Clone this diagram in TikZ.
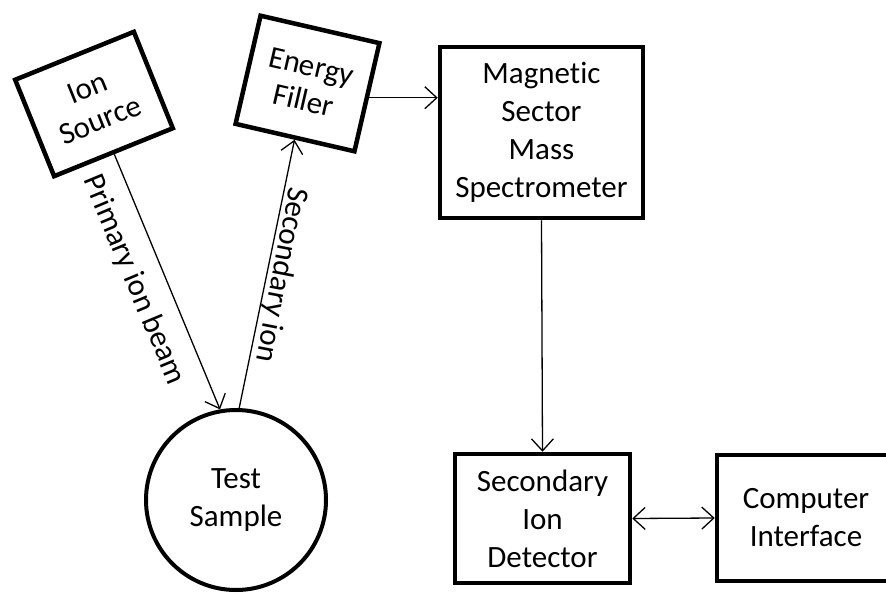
\documentclass[tikz,border=0pt]{standalone}
\usepackage{fontspec}
\setmainfont[Ligatures={NoCommon,NoContextual}]{Carlito}
\usetikzlibrary{arrows.meta}
\begin{document}
\begin{tikzpicture}[x=1pt,y=-1pt,
  every node/.style={font=\fontsize{31}{38}\selectfont, align=center},
  boxnode/.style={draw, line width=4.5pt, rectangle, inner sep=0pt},
  circnode/.style={draw, line width=4pt, circle, inner sep=0pt},
  conn/.style={line width=1.3pt, -{Straight Barb[length=12pt,width=22pt]}},
  biconn/.style={line width=1.3pt, {Straight Barb[length=12pt,width=22pt]}-{Straight Barb[length=12pt,width=22pt]}},
  lbl/.style={inner sep=0pt}
]
\useasboundingbox (0,0) rectangle (886,594);
\clip (0,0) rectangle (886,594);
\node[boxnode, minimum width=128pt, minimum height=104pt, rotate=22, font=\fontsize{31}{35}\selectfont] (is) at (94,104) {Ion\\Source};
\node[boxnode, minimum width=122pt, minimum height=111pt, rotate=-13, font=\fontsize{31}{35}\selectfont] (ef) at (307.5,83.5) {Energy\\Filler};
\node[boxnode, minimum width=203pt, minimum height=171pt] (ms) at (541.5,132.5) {Magnetic\\Sector\\Mass\\Spectrometer};
\node[circnode, minimum size=180pt] (ts) at (236,500) {Test\\Sample};
\node[boxnode, minimum width=175pt, minimum height=129pt] (sid) at (542.5,518.5) {Secondary\\Ion\\Detector};
\node[boxnode, minimum width=178pt, minimum height=126pt] (ci) at (806,518) {Computer\\Interface};

\draw[conn] (is.south) -- (ts.100.6);
\draw[conn] (ts.88) -- (ef.south);
\draw[conn] (ef.east) -- (ms.west |- ef.east);
\draw[conn] (ms.south) -- (sid.north);
\draw[biconn] (sid.east) -- (ci.west);

\node[lbl, rotate=-67.4] (pib) at (134,280) {Primary ion beam};
\node[lbl, rotate=-101] (sil) at (281,275) {Secondary ion};
\end{tikzpicture}
\end{document}
